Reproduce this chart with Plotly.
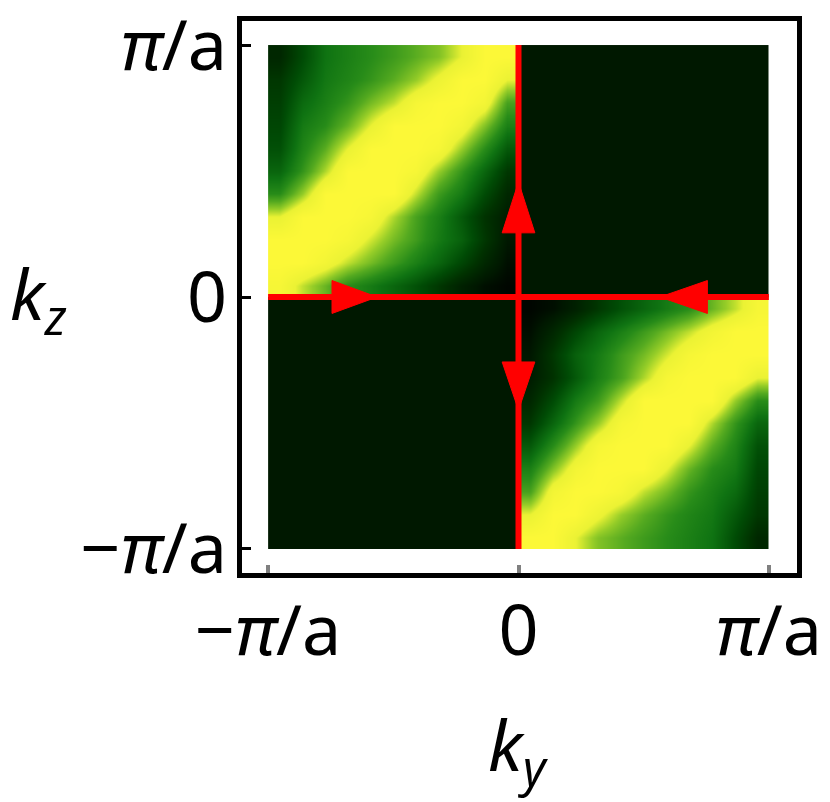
import math
import plotly.graph_objects as go

PI = math.pi

# ---------------- data ----------------
# intensity in the upper-left quadrant (ky in [-pi,0], kz in [0,pi]);
# rows: kz from 0 (bottom) to pi (top); columns: ky from -pi (left) to 0 (right)
ul_quadrant = [
    [0.95, 0.80, 0.68, 0.55, 0.48, 0.40, 0.32, 0.22, 0.12, 0.05, 0.02],
    [1.00, 1.00, 0.92, 0.80, 0.70, 0.60, 0.50, 0.40, 0.28, 0.15, 0.05],
    [1.00, 1.00, 1.00, 0.95, 0.82, 0.70, 0.60, 0.48, 0.38, 0.22, 0.08],
    [0.85, 1.00, 1.00, 1.00, 0.95, 0.78, 0.62, 0.50, 0.35, 0.20, 0.10],
    [0.55, 0.75, 1.00, 1.00, 1.00, 1.00, 0.80, 0.60, 0.48, 0.30, 0.15],
    [0.40, 0.58, 0.78, 1.00, 1.00, 1.00, 0.95, 0.75, 0.58, 0.40, 0.22],
    [0.32, 0.52, 0.66, 0.85, 1.00, 1.00, 1.00, 0.95, 0.75, 0.55, 0.35],
    [0.28, 0.48, 0.55, 0.68, 0.85, 1.00, 1.00, 1.00, 0.92, 0.72, 0.50],
    [0.25, 0.42, 0.50, 0.58, 0.70, 0.80, 0.95, 1.00, 1.00, 0.92, 0.62],
    [0.22, 0.35, 0.47, 0.52, 0.58, 0.66, 0.75, 0.88, 1.00, 1.00, 0.85],
    [0.15, 0.30, 0.45, 0.50, 0.55, 0.60, 0.66, 0.72, 0.85, 1.00, 1.00],
]
# lower-right quadrant is the inversion image of the upper-left one
lr_quadrant = [row[::-1] for row in ul_quadrant[::-1]]
dark_level = 0.08
dark_quadrant = [[dark_level, dark_level], [dark_level, dark_level]]

# red path lines
hline_ky = [-PI, PI]
hline_kz = [0, 0]
vline_ky = [0, 0]
vline_kz = [-PI, PI]

# arrows: base -> tip
arrow_base_ky = [-2.34, 2.37, 0.0, 0.0]
arrow_base_kz = [0.0, 0.0, 0.80, -0.81]
arrow_tip_ky = [-1.775, 1.775, 0.0, 0.0]
arrow_tip_kz = [0.0, 0.0, 1.434, -1.41]

tick_vals = [-PI, 0, PI]
tick_text = ["\u2212<i>\u03c0</i>/a", "0", "<i>\u03c0</i>/a"]

# ---------------- style ----------------
OFF = 8                      # default page (body) margin
W, H = 822, 794
ML, MR, MT, MB = 234, 33, 13, 229
FONT = "Noto Sans"
FS = 70
RED = "#ff0000"
ARROW_HALF_W = 0.205

colorscale = [
    [0.00, "rgb(0,0,0)"],
    [0.08, "rgb(0,24,0)"],
    [0.20, "rgb(0,50,0)"],
    [0.30, "rgb(0,75,5)"],
    [0.45, "rgb(15,115,18)"],
    [0.55, "rgb(40,140,25)"],
    [0.65, "rgb(85,170,32)"],
    [0.75, "rgb(150,205,40)"],
    [0.85, "rgb(235,242,52)"],
    [1.00, "rgb(252,248,55)"],
]

fig = go.Figure()

def add_quadrant(z, x_start, y_start):
    n_rows = len(z)
    n_cols = len(z[0])
    dx = PI / n_cols
    dy = PI / n_rows
    fig.add_trace(go.Heatmap(
        z=z, x0=x_start + dx / 2, dx=dx, y0=y_start + dy / 2, dy=dy,
        colorscale=colorscale, zmin=0, zmax=1, zsmooth="best",
        showscale=False, hoverinfo="skip"))

add_quadrant(ul_quadrant, -PI, 0)
add_quadrant(lr_quadrant, 0, -PI)
add_quadrant(dark_quadrant, 0, 0)
add_quadrant(dark_quadrant, -PI, -PI)

fig.add_trace(go.Scatter(x=hline_ky, y=hline_kz, mode="lines",
                         line=dict(color=RED, width=6), hoverinfo="skip"))
fig.add_trace(go.Scatter(x=vline_ky, y=vline_kz, mode="lines",
                         line=dict(color=RED, width=6), hoverinfo="skip"))

ax_pts, ay_pts = [], []
for bx, by, tx, ty in zip(arrow_base_ky, arrow_base_kz, arrow_tip_ky, arrow_tip_kz):
    L = math.hypot(tx - bx, ty - by)
    ux, uy = (tx - bx) / L, (ty - by) / L
    px, py = -uy, ux
    ax_pts += [tx, bx + ARROW_HALF_W * px, bx - ARROW_HALF_W * px, tx, None]
    ay_pts += [ty, by + ARROW_HALF_W * py, by - ARROW_HALF_W * py, ty, None]
fig.add_trace(go.Scatter(x=ax_pts, y=ay_pts, mode="lines", fill="toself",
                         fillcolor=RED, line=dict(color=RED, width=1),
                         hoverinfo="skip"))

pw = W - ML - MR
ph = H - MT - MB
# screenshot pixel of data origin and scale
x0px = 518.5 - OFF
y0px = 297 - OFF
xppu = 79.7
yppu = 80.2
xr = [(ML - x0px) / xppu, (W - MR - x0px) / xppu]
yr = [(y0px - (H - MB)) / yppu, (y0px - MT) / yppu]

def sx_to_paper(p):
    return (p - OFF - ML) / pw

def sy_to_paper(p):
    return (H - MB - (p - OFF)) / ph

fig.update_layout(
    width=W, height=H,
    margin=dict(l=ML, r=MR, t=MT, b=MB, pad=0, autoexpand=False),
    paper_bgcolor="white", plot_bgcolor="white",
    showlegend=False,
    font=dict(family=FONT, size=FS, color="black"),
    xaxis=dict(range=xr, showgrid=False, zeroline=False, automargin=False,
               showline=True, mirror=True, linecolor="black", linewidth=5,
               ticks="inside", ticklen=8, tickwidth=4, tickcolor="#808080",
               tickvals=tick_vals, ticktext=tick_text,
               tickfont=dict(family=FONT, size=FS, color="black"),
               ticklabelstandoff=-7, ticklabeloverflow="allow"),
    yaxis=dict(range=yr, showgrid=False, zeroline=False, automargin=False,
               showline=True, mirror=True, linecolor="black", linewidth=5,
               ticks="inside", ticklen=9, tickwidth=2.5, tickcolor="black",
               tickvals=tick_vals, ticktext=tick_text,
               tickfont=dict(family=FONT, size=FS, color="black"),
               ticklabelstandoff=-4, ticklabeloverflow="allow"),
    annotations=[
        dict(text="<i>k</i><sub><i>y</i></sub>", xref="paper", yref="paper",
             x=sx_to_paper(518), y=sy_to_paper(748),
             xanchor="center", yanchor="middle", showarrow=False,
             font=dict(family=FONT, size=FS, color="black")),
        dict(text="<i>k</i><sub><i>z</i></sub>", xref="paper", yref="paper",
             x=sx_to_paper(OFF), y=sy_to_paper(297),
             xanchor="left", yanchor="middle", showarrow=False,
             font=dict(family=FONT, size=FS, color="black")),
    ],
)

fig.write_html("out.html")
